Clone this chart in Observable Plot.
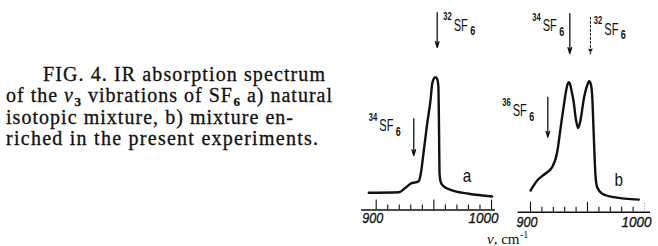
<!DOCTYPE html>
<html><head><meta charset="utf-8">
<script src="https://cdn.jsdelivr.net/npm/d3@7"></script>
<script src="https://cdn.jsdelivr.net/npm/@observablehq/plot@0.6"></script>
<style>
body{margin:0;background:#fff;}
#fig{position:relative;width:658px;height:246px;overflow:hidden;background:#fff;}
#fig svg{position:absolute;top:0;overflow:visible;}
</style></head><body><div id="fig"></div>
<script>
// ---- data ----
// a) natural isotopic mixture: wavenumber (cm^-1) and relative absorption
const nuA  = [893.6, 919.6, 925.4, 929.7, 936.9, 938.4, 941.3, 944.2, 947.1, 948.6, 950.2, 951.4, 952.7, 953.9, 954.5, 954.9, 956.0, 957.8, 965.9, 980.3, 1000.6];
const absA = [13.0, 13.4, 16.7, 19.7, 21.7, 26.0, 44.8, 64.9, 82.5, 95.3, 99.2, 100, 99.0, 93.5, 60.0, 28.0, 21.0, 18.4, 14.7, 12.2, 10.2];
// b) enriched mixture
const nuB  = [900.0, 905.9, 911.7, 919.0, 923.4, 926.3, 929.2, 932.2, 933.6, 935.0, 936.2, 937.7, 939.8, 941.8, 943.9, 946.8, 949.7, 951.5, 952.9, 954.1, 955.5, 957.0, 958.5, 962.9, 973.1, 995.0];
const absB = [16.3, 23.9, 28.2, 33.9, 45.2, 62.8, 80.3, 95.4, 97.9, 95.5, 90.5, 84.1, 70.0, 63.4, 69.5, 85.4, 95.4, 98.6, 96.5, 87.9, 57.8, 27.6, 18.8, 13.9, 11.3, 9.5];

// isotope markers: arrow wavenumber, arrow top / tip (relative absorption units)
const isoA   = ["32", "34"];
const arrNuA = [952.9, 932.6];
const arrFromA = [148.7, 68.7];
const arrToA   = [122.4, 41.0];
const lblNuA = [958.1, 893.6];
const lblYA  = [145.5, 69.7];

const isoB   = ["34", "32", "36"];
const arrNuB = [934.5, 952.6, 915.2];
const arrFromB = [149.6, 146.8, 86.6];
const arrToB   = [119.5, 119.3, 56.5];
const dottedB  = [false, true, false];
const lblNuB = [901.5, 955.5, 875.2];
const lblYB  = [146.6, 144.0, 82.6];

const tickValues = [900, 910, 920, 930, 940, 950, 960, 970, 980, 990, 1000];
const majorTicks = [900, 950, 1000];
const tickLabels = [900, 1000];
const panelLetters = ["a", "b"];

const captionLines = [
  "FIG. 4. IR absorption spectrum",
  "of the ν3 vibrations of SF6 a) natural",
  "isotopic mixture, b) mixture en-",
  "riched in the present experiments."
];
const xLabel = "ν, cm-1";

// ---- drawing ----
const fig = document.getElementById("fig");
const SANS = "'Liberation Sans', Arial, sans-serif";
const SERIF = "'Liberation Serif', 'Times New Roman', serif";

// caption + axis label overlay
const cap = d3.create("svg").attr("width", 658).attr("height", 246).style("left", "0px");
const capFmt = [
  {x: 43, y: 80.7, len: 282},
  {x: 6, y: 102.3, len: 326},
  {x: 6, y: 123.8, len: 287},
  {x: 6, y: 145.3, len: 312}
];
captionLines.forEach((line, i) => {
  const t = cap.append("text").attr("x", capFmt[i].x).attr("y", capFmt[i].y)
    .attr("font-family", SERIF).attr("font-size", 20).attr("fill", "#111")
    .attr("stroke", "#111").attr("stroke-width", 0.3)
    .attr("textLength", capFmt[i].len).attr("lengthAdjust", "spacing");
  if (i === 1) {
    t.append("tspan").text("of the ");
    t.append("tspan").attr("font-style", "italic").text("ν");
    t.append("tspan").attr("font-size", 13).attr("font-weight", "bold").attr("dy", 4).attr("dx", 0.5).text("3");
    t.append("tspan").attr("dy", -4).text(" vibrations of SF");
    t.append("tspan").attr("font-size", 13).attr("font-weight", "bold").attr("dy", 4).attr("dx", 0.5).text("6");
    t.append("tspan").attr("dy", -4).text(" a) natural");
  } else {
    t.text(line);
  }
});
{
  const t = cap.append("text").attr("x", 487).attr("y", 244)
    .attr("font-family", SERIF).attr("font-size", 15).attr("fill", "#111");
  t.append("tspan").attr("font-style", "italic").text(xLabel.slice(0, 1));
  t.append("tspan").text(xLabel.slice(1, 5));
  t.append("tspan").attr("font-size", 10).attr("dy", -6).attr("dx", 0.5).text(xLabel.slice(5));
}
fig.appendChild(cap.node());

function panel({nu, abs, iso, arrNu, arrFrom, arrTo, dotted, lblNu, lblY, letter, letterPos,
                left, width, xr, yr, axisExt, labelDy, faintEnd}) {
  const curve = nu.map((n, i) => ({nu: n, a: abs[i]}));
  const arrows = iso.map((s, i) => ({iso: s, nu: arrNu[i], from: arrFrom[i], to: arrTo[i], dotted: dotted ? dotted[i] : false}));
  const labels = iso.map((s, i) => ({iso: s, nu: lblNu[i], a: lblY[i]}));
  const ticks = tickValues.map(v => ({v, h: majorTicks.includes(v) ? 7.5 : 3.8, faint: faintEnd && v === 1000}));
  const arrowOpts = {x1: "nu", x2: "nu", y1: "from", y2: "to", stroke: "#111", strokeWidth: 1.3, headLength: 7, headAngle: 34};
  const marks = [
    Plot.ruleY([{y: 0, x1: axisExt[0], x2: axisExt[1]}], {y: "y", x1: "x1", x2: "x2", stroke: "#111", strokeWidth: 1.6}),
    Plot.ruleX(ticks.filter(d => !d.faint), {x: "v", y1: () => 0, y2: "h", stroke: "#111", strokeWidth: 1.1}),
    Plot.ruleX(ticks.filter(d => d.faint), {x: "v", y1: () => 0, y2: "h", stroke: "#999", strokeWidth: 1, strokeDasharray: "1,1.5"}),
    Plot.text(tickLabels, {x: d => d, y: () => 0, dy: labelDy, dx: 7, text: d => String(d), textAnchor: "end",
      fontStyle: "italic", fontSize: 14, fontFamily: SANS, fill: "#111", stroke: "#111", strokeWidth: 0.3}),
    Plot.line(curve, {x: "nu", y: "a", curve: "monotone-x", stroke: "#111", strokeWidth: 2.4, strokeLinejoin: "round"}),
    Plot.arrow(arrows.filter(d => !d.dotted), arrowOpts),
    Plot.arrow(arrows.filter(d => d.dotted), {...arrowOpts, strokeDasharray: "2,2", strokeWidth: 1.1}),
    Plot.text(labels, {x: "nu", y: "a", text: d => d.iso + "SF6", textAnchor: "start", fontSize: 11, fontFamily: SANS, fill: "#111"}),
    Plot.text([letter], {x: () => letterPos[0], y: () => letterPos[1], text: d => d, textAnchor: "start", fontSize: 19, fontFamily: SANS, fill: "#111"})
  ];
  const svg = Plot.plot({
    width, height: 246,
    x: {domain: [900, 1000], range: xr, axis: null},
    y: {domain: [0, 100], range: yr, axis: null},
    style: {background: "transparent", overflow: "visible"},
    marks
  });
  svg.style.left = left + "px";
  fig.appendChild(svg);
  const lens = {"900": 21, "1000": 30, "a": 8.5, "b": 8.5};
  d3.select(svg).selectAll("text").each(function () {
    const sel = d3.select(this);
    const t = this.textContent;
    const m = /^(\d\d)SF(\d)$/.exec(t);
    if (m) {
      sel.text("");
      sel.append("tspan").attr("font-size", 11).attr("font-weight", 600).text(m[1]);
      sel.append("tspan").attr("font-size", 16).attr("dy", 10.3).attr("dx", 3).text("SF");
      sel.append("tspan").attr("font-size", 13).attr("font-weight", 600).attr("dy", 4.5).attr("dx", 3.5).text(m[2]);
      sel.attr("textLength", 32).attr("lengthAdjust", "spacingAndGlyphs");
      return;
    }
    const L = lens[t];
    if (L !== undefined) sel.attr("textLength", L).attr("lengthAdjust", "spacingAndGlyphs");
  });
}

panel({nu: nuA, abs: absA, iso: isoA, arrNu: arrNuA, arrFrom: arrFromA, arrTo: arrToA, dotted: null,
  lblNu: lblNuA, lblY: lblYA, letter: panelLetters[0], letterPos: [975.1, 25.5],
  left: 350, width: 150, xr: [25.7, 141], yr: [209.5, 76.7], axisExt: [887.3, 1003.4], labelDy: 8.5, faintEnd: false});
panel({nu: nuB, abs: absB, iso: isoB, arrNu: arrNuB, arrFrom: arrFromB, arrTo: arrToB, dotted: dottedB,
  lblNu: lblNuB, lblY: lblYB, letter: panelLetters[1], letterPos: [973.7, 24.2],
  left: 495, width: 163, xr: [35, 149], yr: [211.7, 78.9], axisExt: [889.2, 1005.3], labelDy: 10, faintEnd: true});
</script>
</body></html>
